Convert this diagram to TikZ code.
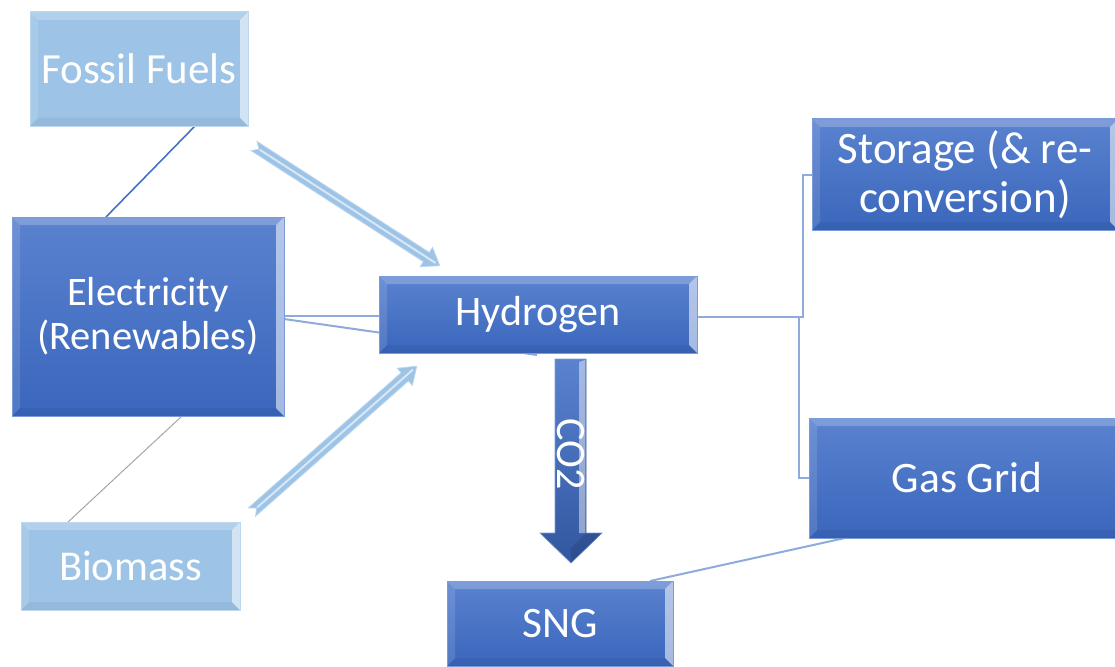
\documentclass[tikz,border=0pt]{standalone}
\usepackage{fontspec}
\setmainfont{Carlito}
\usetikzlibrary{calc}
\definecolor{dktop}{HTML}{5A82CF}
\definecolor{dkbot}{HTML}{3A66BC}
\definecolor{dkedge}{HTML}{7B9BD8}
\definecolor{lt}{HTML}{9DC3E6}
\definecolor{ltedge}{HTML}{BDD7EE}
\definecolor{conn}{HTML}{8FAADC}
\definecolor{dline}{HTML}{4472C4}
\definecolor{gline}{HTML}{A5A5A5}
\pgfdeclarelayer{bg}
\pgfsetlayers{bg,main}
\newcommand{\fs}[2]{\fontsize{#1}{#2}\selectfont}
\tikzset{
  bevel/.style={path picture={
    \path (path picture bounding box.north west) coordinate (bnw)
          (path picture bounding box.north east) coordinate (bne)
          (path picture bounding box.south west) coordinate (bsw)
          (path picture bounding box.south east) coordinate (bse);
    \fill[white,opacity=0.22] (bnw) -- (bne) -- ($(bne)+(-8,8)$) -- ($(bnw)+(8,8)$) -- cycle;
    \fill[white,opacity=0.12] (bnw) -- (bsw) -- ($(bsw)+(8,-8)$) -- ($(bnw)+(8,8)$) -- cycle;
    \fill[white,opacity=0.55] (bne) -- (bse) -- ($(bse)+(-8,-8)$) -- ($(bne)+(-8,8)$) -- cycle;
    \fill[black,opacity=0.05] (bsw) -- (bse) -- ($(bse)+(-8,-8)$) -- ($(bsw)+(8,-8)$) -- cycle;
  }},
  darkbox/.style={draw=dkedge, line width=1pt, top color=dktop, bottom color=dkbot,
    text=white, inner sep=0pt, outer sep=0pt, align=center, bevel},
  lightbox/.style={draw=ltedge, line width=1pt, fill=lt,
    text=white, inner sep=0pt, outer sep=0pt, align=center, bevel},
  cline/.style={draw=conn, line width=2pt},
  blockarr/.style={fill=lt, draw=ltedge, line width=0.8pt},
}
\begin{document}
\begin{tikzpicture}[x=1pt,y=-1pt]
\useasboundingbox (0,0) rectangle (1115,666);
\begin{scope}
\clip (0,0) rectangle (1115,666);
% nodes
\node[lightbox, minimum width=218pt, minimum height=114pt, font=\fs{43}{48}] (fossil) at (139,69) {Fossil Fuels};
\node[darkbox, minimum width=272pt, minimum height=199pt, font=\fs{40.5}{44}] (elec) at (148,316.5) {Electricity\\(Renewables)};
\node[lightbox, minimum width=219pt, minimum height=88pt, font=\fs{42.5}{48}] (bio) at (130.5,566) {Biomass};
\node[darkbox, minimum width=318pt, minimum height=77pt, font=\fs{42}{47}] (hyd) at (538,314.5) {Hydrogen};
\node[darkbox, minimum width=226pt, minimum height=85pt, font=\fs{43.5}{48}] (sng) at (560,623.5) {SNG};
\node[darkbox, minimum width=306pt, minimum height=111pt, font=\fs{45}{49}] (stor) at (965,174.5) {Storage (\& re-\\conversion)};
\node[darkbox, minimum width=316pt, minimum height=120pt, font=\fs{43.5}{48}] (grid) at (967,478) {Gas Grid};

% CO2 block arrow
\fill[top color=dktop, bottom color=dkbot!85!black, draw=dkedge, line width=0.6pt]
  (555,359) -- (586,359) -- (586,533) -- (602,533) -- (571,563) -- (540,533) -- (555,533) -- cycle;
\fill[white,opacity=0.45] (579,362) -- (585,360) -- (585,533) -- (579,533) -- cycle;
\fill[black,opacity=0.10] (571,563) -- (602,533) -- (586,533) -- (571,548) -- cycle;
\node[text=white, rotate=-90, inner sep=0pt, font=\fs{42}{46}] (co2) at (571,454) {CO2};

% block arrows
\begin{scope}[shift={(254,146)}, rotate=-32.8]
  \path[blockarr] (0,5.5) -- (205,5.5) -- (205,11.5) -- (221,0) -- (205,-11.5) -- (205,-5.5) -- (0,-5.5) -- (6,0) -- cycle;
  \draw[white, opacity=0.6, line width=2pt] (7,0) -- (216,0);
\end{scope}
\begin{scope}[shift={(252,512)}, rotate=41.5]
  \path[blockarr] (0,5.5) -- (204,5.5) -- (204,11.5) -- (220,0) -- (204,-11.5) -- (204,-5.5) -- (0,-5.5) -- (6,0) -- cycle;
  \draw[white, opacity=0.6, line width=2pt] (7,0) -- (215,0);
\end{scope}
\end{scope}

% connectors
\begin{pgfonlayer}{bg}
  \draw[draw=dline, line width=1.6pt] (fossil.south -| 195,0) -- (elec.north -| 106,0);
  \draw[draw=gline, line width=1pt] (elec.south -| 182,0) -- (bio.north -| 68,0);
  \draw[cline] (elec.east |- 0,316) -- (hyd.west |- 0,316);
  \coordinate (hb) at (537,355);
  \draw[cline] (elec.east |- 0,319) -- (hb);
  \draw[cline] (hyd.east |- 0,317) -- (803,317) |- (stor.west);
  \draw[cline] (hyd.east |- 0,317) -- (799,317) |- (grid.west);
  \draw[cline] (grid.south -| 845,0) -- (sng.north -| 650,0);
\end{pgfonlayer}
\end{tikzpicture}
\end{document}
